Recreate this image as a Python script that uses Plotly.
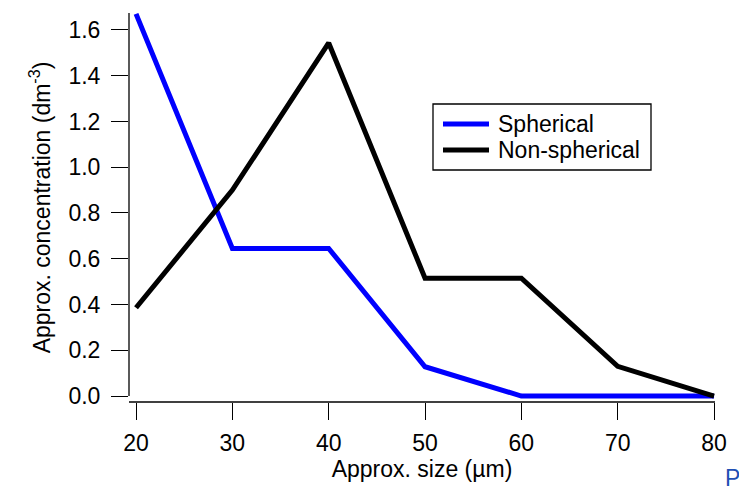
import plotly.graph_objects as go

# Particle size bins (µm) and approximate number concentrations (dm^-3)
sizes = [20, 30, 40, 50, 60, 70, 80]
spherical = [1.67, 0.645, 0.645, 0.128, 0.0, 0.0, 0.0]
non_spherical = [0.386, 0.90, 1.543, 0.515, 0.515, 0.130, 0.0]
series_names = ["Spherical", "Non-spherical"]
series_colors = ["#0000ff", "#000000"]

y_ticks = [0.0, 0.2, 0.4, 0.6, 0.8, 1.0, 1.2, 1.4, 1.6]
x_ticks = [20, 30, 40, 50, 60, 70, 80]

X_RANGE = [19.27, 80.1]
Y_RANGE = [-0.026, 1.674]

FONT = "Liberation Sans, Arial, sans-serif"
FS = 23

# Plot area in pixels, used to place the boxed legend
L, R, T, B = 129, 715, 13, 402
W, H = 739, 489


def px_x(p):
    return (p - L) / (R - L)


def px_y(p):
    return (B - p) / (B - T)


fig = go.Figure()
for name, vals, col in zip(series_names, [spherical, non_spherical], series_colors):
    fig.add_trace(go.Scatter(x=sizes, y=vals, mode="lines", name=name,
                             line=dict(color=col, width=5), cliponaxis=False,
                             showlegend=False))

axis_common = dict(showgrid=False, zeroline=False, showline=False,
                   ticks="outside", ticklen=17, tickwidth=1.3, tickcolor="black",
                   tickfont=dict(family=FONT, size=FS, color="black"))

fig.update_xaxes(range=X_RANGE, tickvals=x_ticks, ticktext=[str(v) for v in x_ticks],
                 ticklabelstandoff=3,
                 title=dict(text="Approx. size (µm)", font=dict(family=FONT, size=FS, color="black"),
                            standoff=1),
                 **axis_common)
fig.update_yaxes(range=Y_RANGE, tickvals=y_ticks, ticktext=[f"{v:.1f}" for v in y_ticks],
                 ticklabelstandoff=6,
                 title=dict(text="Approx. concentration (dm<sup>-3</sup>)",
                            font=dict(family=FONT, size=FS, color="black"), standoff=11),
                 **axis_common)

# Axis lines: the vertical one stops at zero, the horizontal one sits just below it
fig.add_shape(type="line", xref="paper", yref="y", x0=0, x1=0, y0=0, y1=Y_RANGE[1],
              line=dict(color="black", width=1.3))
fig.add_shape(type="line", xref="x", yref="paper", x0=X_RANGE[0], x1=X_RANGE[1], y0=0, y1=0,
              line=dict(color="black", width=1.3))

# Boxed legend
fig.add_shape(type="rect", xref="paper", yref="paper",
              x0=px_x(433), x1=px_x(651), y0=px_y(170), y1=px_y(104),
              line=dict(color="black", width=1.3), fillcolor="white", layer="above")
for i, (name, col) in enumerate(zip(series_names, series_colors)):
    yy = px_y(124 + 26 * i)
    fig.add_shape(type="line", xref="paper", yref="paper",
                  x0=px_x(443), x1=px_x(489), y0=yy, y1=yy,
                  line=dict(color=col, width=5), layer="above")
    fig.add_annotation(text=name, xref="paper", yref="paper", x=px_x(496), y=yy,
                       xanchor="left", yanchor="middle", showarrow=False,
                       font=dict(family=FONT, size=FS, color="black"))

fig.add_annotation(text="P", xref="paper", yref="paper", x=px_x(723), y=px_y(478),
                   xanchor="left", yanchor="middle", showarrow=False,
                   font=dict(family=FONT, size=FS, color="#1f4fb4"))

fig.update_layout(
    width=W, height=H,
    margin=dict(l=L, r=W - R, t=T, b=H - B),
    paper_bgcolor="white", plot_bgcolor="white",
    showlegend=False,
)

fig.write_html("out.html")
